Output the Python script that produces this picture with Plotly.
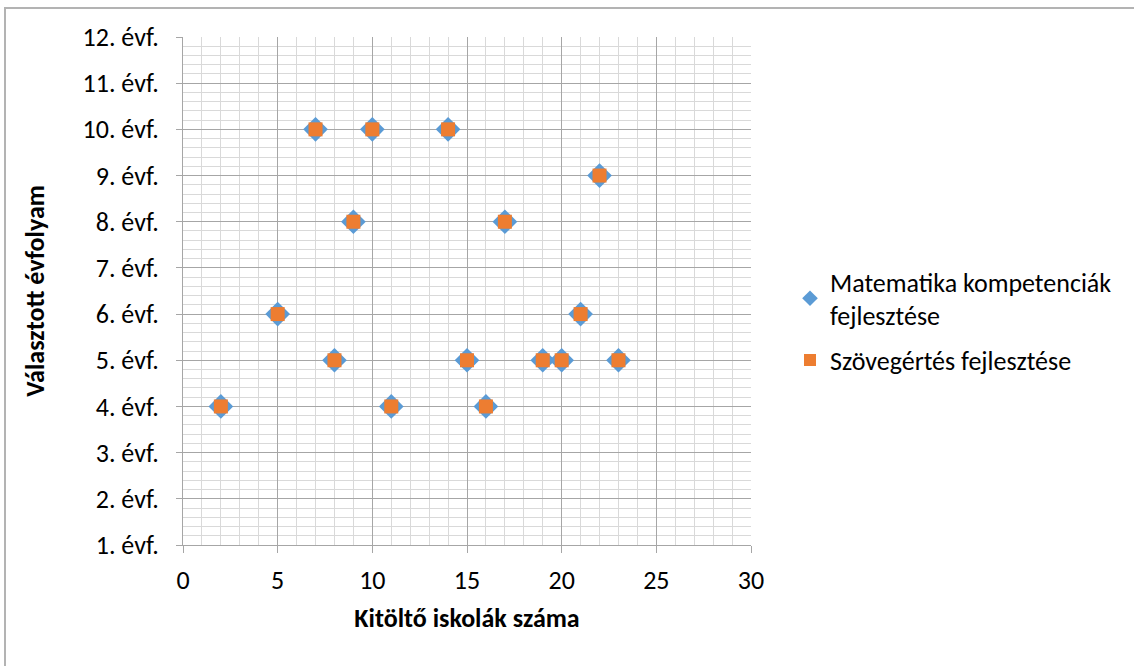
import plotly.graph_objects as go

# Number of responding schools (x) and chosen grade (y) per series
math_schools = [7, 10, 14, 22, 9, 17, 5, 21, 8, 15, 19, 20, 23, 2, 11, 16]
math_grades = [10, 10, 10, 9, 8, 8, 6, 6, 5, 5, 5, 5, 5, 4, 4, 4]
read_schools = [7, 10, 14, 22, 9, 17, 5, 21, 8, 15, 19, 20, 23, 2, 11, 16]
read_grades = [10, 10, 10, 9, 8, 8, 6, 6, 5, 5, 5, 5, 5, 4, 4, 4]

grade_values = list(range(1, 13))
grade_labels = [f"{g}. évf." for g in grade_values]

FONT = "Calibri, Carlito, Lato, sans-serif"
FS = 26

fig = go.Figure()
fig.add_trace(go.Scatter(
    x=math_schools, y=math_grades, mode="markers",
    name="Matematika kompetenciák<br>fejlesztése", legendgroup="math",
    marker=dict(symbol="diamond", size=19, color="#5B9BD5", line=dict(width=0)),
))
fig.add_trace(go.Scatter(
    x=read_schools, y=read_grades, mode="markers",
    name="Szövegértés fejlesztése", legendgroup="read",
    marker=dict(symbol="square", size=14, color="#ED7D31", line=dict(width=0)),
))

L, R, T, B = 183, 751, 37, 545
W, H = 1134, 666
pw, ph = R - L, B - T

fig.update_layout(
    width=W, height=H,
    margin=dict(l=L, r=W - R, t=T, b=H - B),
    paper_bgcolor="white", plot_bgcolor="white",
    font=dict(family=FONT, size=FS, color="#000000"),
    showlegend=True,
    legend=dict(
        x=(790 - L) / pw, y=(B - 258) / ph, xanchor="left", yanchor="top",
        font=dict(family=FONT, size=FS, color="#000000"),
        bgcolor="rgba(0,0,0,0)", itemsizing="constant",
        tracegroupgap=8,
    ),
    xaxis=dict(
        range=[0, 30], tick0=0, dtick=5,
        showgrid=True, gridcolor="#A6A6A6", gridwidth=1,
        minor=dict(dtick=1, showgrid=True, gridcolor="#D9D9D9", gridwidth=1,
                   ticks=""),
        showline=True, linecolor="#A6A6A6", linewidth=1,
        ticks="outside", ticklen=7, tickcolor="#A6A6A6",
        ticklabelstandoff=5,
        zeroline=False,
        tickfont=dict(family=FONT, size=FS),
        title=dict(text="<b>Kitöltő iskolák száma</b>", standoff=13,
                   font=dict(family=FONT, size=FS)),
        fixedrange=True,
    ),
    yaxis=dict(
        range=[1, 12], tickvals=grade_values, ticktext=grade_labels,
        showgrid=True, gridcolor="#A6A6A6", gridwidth=1,
        minor=dict(dtick=0.2, tick0=1, showgrid=True, gridcolor="#D9D9D9",
                   gridwidth=1, ticks=""),
        showline=True, linecolor="#A6A6A6", linewidth=1,
        ticks="outside", ticklen=6, tickcolor="#A6A6A6",
        ticklabelstandoff=12,
        zeroline=False,
        tickfont=dict(family=FONT, size=FS),
        title=dict(text="<b>Választott évfolyam</b>", standoff=30,
                   font=dict(family=FONT, size=FS)),
        fixedrange=True,
    ),
    shapes=[dict(
        type="rect", xref="paper", yref="paper",
        x0=(5 - L) / pw, x1=(1140 - L) / pw,
        y0=(B - 672) / ph, y1=(B - 8) / ph,
        line=dict(color="#B3B3B3", width=2), fillcolor="rgba(0,0,0,0)",
        layer="below",
    )],
)

fig.write_html("out.html")
